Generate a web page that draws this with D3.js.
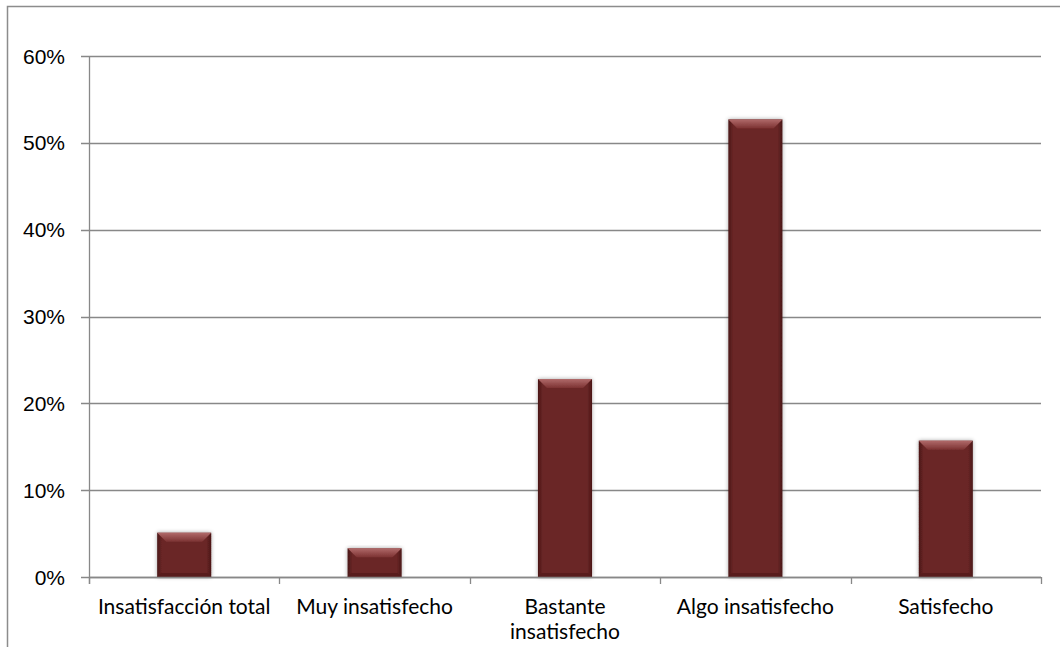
<!DOCTYPE html>
<html>
<head>
<meta charset="utf-8">
<script src="https://cdn.jsdelivr.net/npm/d3@7"></script>
<style>
  body { margin: 0; background: #fff; }
  svg { display: block; }
  .tick-label { font-family: "Liberation Sans", Arial, sans-serif; font-size: 21px; fill: #000; }
  .cat-label { font-family: Lato, "Open Sans", sans-serif; font-size: 21px; fill: #000; }
</style>
</head>
<body>
<div id="chart"></div>
<script>
// datos
const categories = ["Insatisfacción total", "Muy insatisfecho", "Bastante insatisfecho", "Algo insatisfecho", "Satisfecho"];
const values = [0.051, 0.033, 0.228, 0.527, 0.157];
const yTicks = [0, 0.1, 0.2, 0.3, 0.4, 0.5, 0.6];

const width = 1060, height = 647;
const margin = { top: 56, right: 19, bottom: 70, left: 89 };

const svg = d3.select("#chart").append("svg")
    .attr("width", width)
    .attr("height", height);

const defs = svg.append("defs");

// sombreado lateral de las barras
const side = defs.append("linearGradient").attr("id", "barSide")
    .attr("x1", "0").attr("x2", "1").attr("y1", "0").attr("y2", "0");
side.append("stop").attr("offset", "0%").attr("stop-color", "#4a1717");
side.append("stop").attr("offset", "9%").attr("stop-color", "#6a2626");
side.append("stop").attr("offset", "91%").attr("stop-color", "#6a2626");
side.append("stop").attr("offset", "100%").attr("stop-color", "#4a1717");

const bevel = defs.append("linearGradient").attr("id", "barTop")
    .attr("x1", "0").attr("x2", "0").attr("y1", "0").attr("y2", "1");
bevel.append("stop").attr("offset", "0%").attr("stop-color", "#b06a6a");
bevel.append("stop").attr("offset", "100%").attr("stop-color", "#7c3232");

const shadow = defs.append("filter").attr("id", "glow")
    .attr("x", "-30%").attr("y", "-10%").attr("width", "160%").attr("height", "120%");
shadow.append("feGaussianBlur").attr("in", "SourceAlpha").attr("stdDeviation", 2).attr("result", "b");
shadow.append("feComponentTransfer").attr("in", "b").attr("result", "s")
    .append("feFuncA").attr("type", "linear").attr("slope", 0.35);
const merge = shadow.append("feMerge");
merge.append("feMergeNode").attr("in", "s");
merge.append("feMergeNode").attr("in", "SourceGraphic");

// marco exterior (recortado a la derecha y abajo)
svg.append("path")
    .attr("d", `M7.5,${height} V6.5 H${width}`)
    .attr("fill", "none")
    .attr("stroke", "#8c8c8c")
    .attr("stroke-width", 1.5);

const x = d3.scaleBand()
    .domain(categories)
    .range([margin.left, width - margin.right]);

const y = d3.scaleLinear()
    .domain([0, 0.6])
    .range([height - margin.bottom, margin.top]);

const x0 = margin.left, x1 = width - margin.right;

// líneas de cuadrícula
svg.append("g").selectAll("line")
    .data(yTicks)
    .join("line")
    .attr("x1", x0 - 8).attr("x2", x1)
    .attr("y1", d => Math.round(y(d)) + 0.5)
    .attr("y2", d => Math.round(y(d)) + 0.5)
    .attr("stroke", "#888")
    .attr("stroke-width", 1.3);

// eje Y
svg.append("line")
    .attr("x1", x0 + 0.5).attr("x2", x0 + 0.5)
    .attr("y1", y(0.6)).attr("y2", y(0) + 7)
    .attr("stroke", "#888").attr("stroke-width", 1.3);

svg.append("g").selectAll("text")
    .data(yTicks)
    .join("text")
    .attr("class", "tick-label")
    .attr("x", 65)
    .attr("y", d => y(d))
    .attr("dy", "0.36em")
    .attr("text-anchor", "end")
    .text(d3.format(".0%"));

// marcas del eje X en los límites de categoría
const bounds = categories.map(c => x(c)).concat([x1]);
svg.append("g").selectAll("line")
    .data(bounds)
    .join("line")
    .attr("x1", d => Math.round(d) + 0.5).attr("x2", d => Math.round(d) + 0.5)
    .attr("y1", y(0)).attr("y2", y(0) + 7)
    .attr("stroke", "#888").attr("stroke-width", 1.3);

// barras
const barW = x.bandwidth() * 0.284;
const bev = 9;
const bars = svg.append("g").selectAll("g")
    .data(values)
    .join("g")
    .attr("filter", "url(#glow)");

bars.append("rect")
    .attr("x", (d, i) => x(categories[i]) + (x.bandwidth() - barW) / 2)
    .attr("y", d => y(d))
    .attr("width", barW)
    .attr("height", d => y(0) - y(d))
    .attr("fill", "url(#barSide)");

bars.append("path")
    .attr("d", (d, i) => {
        const bx = x(categories[i]) + (x.bandwidth() - barW) / 2;
        const by = y(d);
        const b = Math.min(bev, (y(0) - y(d)) / 3);
        return `M${bx},${by} H${bx + barW} L${bx + barW - b},${by + b} H${bx + b} Z`;
    })
    .attr("fill", "url(#barTop)");

bars.append("path")
    .attr("d", (d, i) => {
        const bx = x(categories[i]) + (x.bandwidth() - barW) / 2;
        const by = y(0);
        const b = 4;
        return `M${bx},${by} H${bx + barW} L${bx + barW - b},${by - b} H${bx + b} Z`;
    })
    .attr("fill", "#521b1b")
    .attr("opacity", 0.7);

// línea base
svg.append("line")
    .attr("x1", x0).attr("x2", x1)
    .attr("y1", Math.round(y(0)) + 0.5).attr("y2", Math.round(y(0)) + 0.5)
    .attr("stroke", "#888").attr("stroke-width", 1.3);

// etiquetas de categoría con ajuste de línea
const labels = svg.append("g").selectAll("text")
    .data(categories)
    .join("text")
    .attr("class", "cat-label")
    .attr("text-anchor", "middle")
    .attr("x", d => x(d) + x.bandwidth() / 2)
    .attr("y", y(0) + 37);

labels.each(function(d) {
    const t = d3.select(this);
    const words = d.split(" ");
    let line = [];
    let n = 0;
    let ts = t.append("tspan").attr("x", t.attr("x")).attr("dy", 0);
    words.forEach(w => {
        line.push(w);
        ts.text(line.join(" "));
        if (ts.node().getComputedTextLength() > 178 && line.length > 1) {
            line.pop();
            ts.text(line.join(" "));
            line = [w];
            n++;
            ts = t.append("tspan").attr("x", t.attr("x")).attr("dy", "1.2em").text(w);
        }
    });
});
</script>
</body>
</html>
